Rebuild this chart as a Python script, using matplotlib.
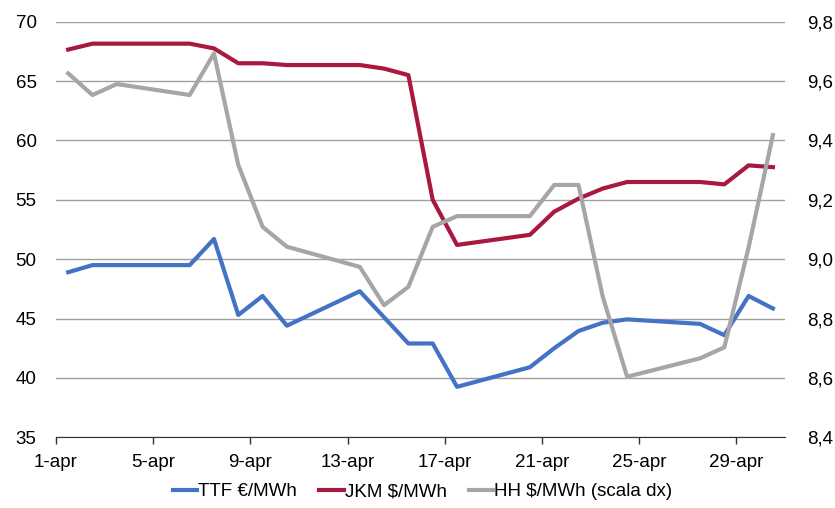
import matplotlib
matplotlib.use("Agg")
import matplotlib.pyplot as plt
from matplotlib.ticker import FuncFormatter

plt.rcParams['font.family'] = ['Liberation Sans', 'DejaVu Sans']

# giorni di aprile con dati (i weekend sono collegati dalla linea)
days = [1, 2, 3, 6, 7, 8, 9, 10, 13, 14, 15, 16, 17, 20, 21, 22, 23, 24, 27, 28, 29, 30]

ttf = [48.9, 49.5, 49.5, 49.5, 51.7, 45.3, 46.9, 44.4, 47.3, 45.1, 42.9, 42.9,
       39.25, 40.9, 42.5, 43.95, 44.65, 44.93, 44.55, 43.6, 46.9, 45.85]
jkm = [67.65, 68.15, 68.15, 68.15, 67.75, 66.5, 66.5, 66.35, 66.35, 66.05, 65.5, 55.0,
       51.2, 52.05, 54.0, 55.1, 55.95, 56.5, 56.5, 56.3, 57.9, 57.75]
hh = [9.626, 9.553, 9.590, 9.553, 9.693, 9.317, 9.109, 9.042, 8.974, 8.845, 8.907, 9.109,
      9.145, 9.145, 9.250, 9.250, 8.873, 8.604, 8.666, 8.703, 9.04, 9.418]

tick_days = [1, 5, 9, 13, 17, 21, 25, 29]
tick_labels = [f"{d}-apr" for d in tick_days]

blue = '#4472C4'
red = '#A8183F'
grey = '#A6A6A6'
fs = 13.5

fig = plt.figure(figsize=(8.35, 5.08), dpi=100)
ax = fig.add_axes([0.0671, 0.1392, 0.8731, 0.8181])
ax2 = ax.twinx()

l1, = ax.plot(days, ttf, color=blue, lw=3, solid_joinstyle='round', label='TTF €/MWh')
l2, = ax.plot(days, jkm, color=red, lw=3, solid_joinstyle='round', label='JKM $/MWh')
l3, = ax2.plot(days, hh, color=grey, lw=3, solid_joinstyle='round', label='HH $/MWh (scala dx)')

ax.set_xlim(0.5, 30.5)
ax.set_ylim(35, 70)
ax.set_yticks(range(35, 71, 5))
ax2.set_ylim(8.4, 9.8)
ax2.set_yticks([8.4, 8.6, 8.8, 9.0, 9.2, 9.4, 9.6, 9.8])
ax2.yaxis.set_major_formatter(FuncFormatter(lambda v, p: f"{v:.1f}".replace('.', ',')))

# etichette sui bordi tra i giorni, come nel grafico Excel
ax.set_xticks([d - 0.5 for d in tick_days])
ax.set_xticklabels(tick_labels)

ax.grid(axis='y', color='#A0A0A0', lw=1)
ax.set_axisbelow(True)
for a in (ax, ax2):
    for s in ('left', 'right', 'top'):
        a.spines[s].set_visible(False)
    a.spines['bottom'].set_color('#303030')
ax2.spines['bottom'].set_visible(False)

ax.tick_params(axis='y', length=0, pad=14, labelsize=fs)
ax2.tick_params(axis='y', length=0, pad=16, labelsize=fs)
ax.tick_params(axis='x', length=5, width=1, color='#303030', pad=7, labelsize=fs)

fig.legend(handles=[l1, l2, l3], loc='center', bbox_to_anchor=(0.506, 0.032),
           ncol=3, frameon=False, fontsize=fs, handlelength=1.3,
           handletextpad=0.05, columnspacing=1.2)

fig.savefig('out.png', dpi=100)
